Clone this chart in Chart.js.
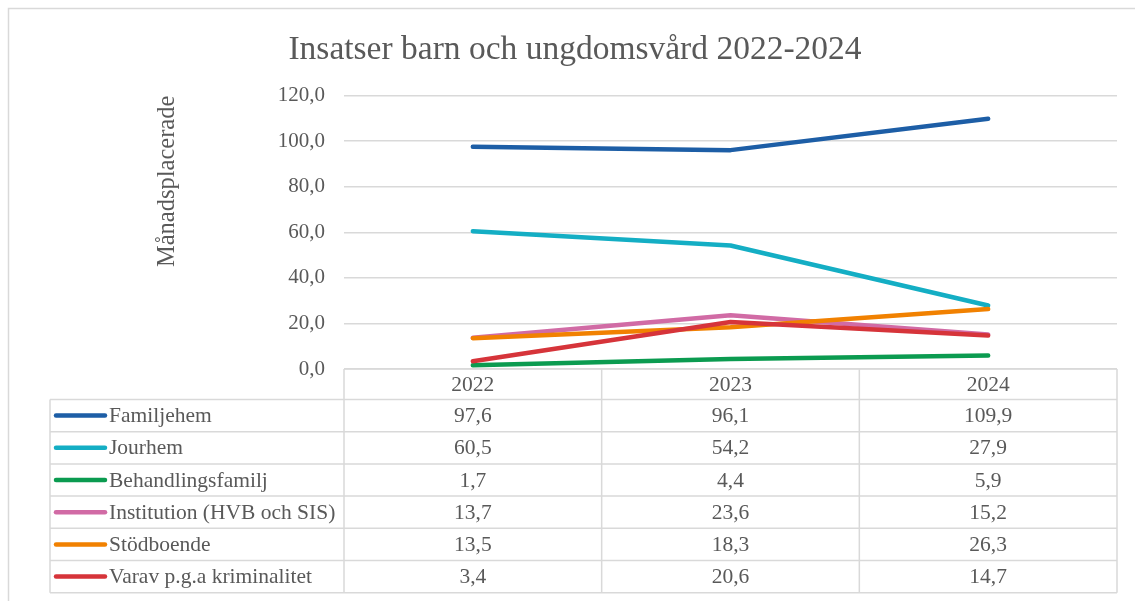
<!DOCTYPE html>
<html>
<head>
<meta charset="utf-8">
<script src="https://cdn.jsdelivr.net/npm/chart.js@4/dist/chart.umd.min.js"></script>
<style>
  html, body { margin: 0; padding: 0; background: #ffffff; }
  #wrap { width: 1135px; height: 601px; position: relative; }
</style>
</head>
<body>
<div id="wrap"><canvas id="c"></canvas></div>
<script>
const categories = ['2022', '2023', '2024'];
const seriesNames = ['Familjehem', 'Jourhem', 'Behandlingsfamilj', 'Institution (HVB och SIS)', 'Stödboende', 'Varav p.g.a kriminalitet'];
const familjehem = [97.6, 96.1, 109.9];
const jourhem = [60.5, 54.2, 27.9];
const behandlingsfamilj = [1.7, 4.4, 5.9];
const institution = [13.7, 23.6, 15.2];
const stodboende = [13.5, 18.3, 26.3];
const kriminalitet = [3.4, 20.6, 14.7];
const seriesValues = [familjehem, jourhem, behandlingsfamilj, institution, stodboende, kriminalitet];
const seriesColors = ['#1D5EA6', '#14AEC4', '#0B9B50', '#D16BA5', '#F18101', '#D6343A'];
const yTicks = [0, 20, 40, 60, 80, 100, 120];

const TEXT = '#595959';
const GRID = '#D9D9D9';
const SERIF = '"Liberation Serif", "Times New Roman", serif';
const fmt = v => v.toFixed(1).replace('.', ',');

const bgPlugin = {
  id: 'bg',
  beforeDraw(chart) {
    const ctx = chart.ctx;
    ctx.save();
    ctx.fillStyle = '#ffffff';
    ctx.fillRect(0, 0, chart.width, chart.height);
    ctx.strokeStyle = GRID;
    ctx.lineWidth = 1.5;
    ctx.strokeRect(8.5, 8.5, chart.width + 50, chart.height + 50);
    ctx.restore();
  }
};

const tablePlugin = {
  id: 'dataTable',
  afterDraw(chart) {
    const ctx = chart.ctx;
    const area = chart.chartArea;
    const xs = chart.scales.x;
    const n = categories.length;
    const colW = (area.right - area.left) / n;
    const top = area.bottom;
    const headerH = 30.5;
    const rowH = 32.2;
    const tableLeft = 50;
    const bottom = top + headerH + rowH * seriesNames.length;
    ctx.save();
    ctx.strokeStyle = GRID;
    ctx.lineWidth = 1.5;
    ctx.beginPath();
    ctx.moveTo(area.left, top);
    ctx.lineTo(area.right, top);
    for (let r = 0; r <= seriesNames.length; r++) {
      const y = top + headerH + r * rowH;
      ctx.moveTo(tableLeft, y);
      ctx.lineTo(area.right, y);
    }
    ctx.moveTo(tableLeft, top + headerH);
    ctx.lineTo(tableLeft, bottom);
    for (let c = 0; c <= n; c++) {
      const x = area.left + c * colW;
      ctx.moveTo(x, top);
      ctx.lineTo(x, bottom);
    }
    ctx.stroke();

    ctx.fillStyle = TEXT;
    ctx.font = '21.5px ' + SERIF;
    ctx.textBaseline = 'middle';
    ctx.textAlign = 'center';
    categories.forEach((cat, i) => {
      ctx.fillText(cat, xs.getPixelForValue(i), top + headerH / 2 + 1);
    });
    seriesNames.forEach((name, r) => {
      const yc = top + headerH + r * rowH + rowH / 2 + 1;
      ctx.strokeStyle = seriesColors[r];
      ctx.lineWidth = 4.5;
      ctx.lineCap = 'round';
      ctx.beginPath();
      ctx.moveTo(56, yc - 1);
      ctx.lineTo(105, yc - 1);
      ctx.stroke();
      ctx.textAlign = 'left';
      ctx.fillStyle = TEXT;
      ctx.fillText(name, 109, yc);
      ctx.textAlign = 'center';
      seriesValues[r].forEach((v, i) => {
        ctx.fillText(fmt(v), xs.getPixelForValue(i), yc);
      });
    });
    ctx.restore();
  }
};

const datasets = seriesNames.map((name, i) => ({
  label: name,
  data: seriesValues[i],
  borderColor: seriesColors[i],
  backgroundColor: seriesColors[i],
  borderWidth: 4.5,
  borderCapStyle: 'round',
  borderJoinStyle: 'round',
  pointRadius: 0,
  pointHoverRadius: 0,
  tension: 0,
  fill: false,
  order: seriesNames.length - i
}));

new Chart(document.getElementById('c'), {
  type: 'line',
  data: { labels: categories, datasets },
  options: {
    responsive: true,
    maintainAspectRatio: false,
    animation: false,
    layout: { padding: { left: 33, right: 18, top: 0, bottom: 232 } },
    plugins: {
      legend: { display: false },
      tooltip: { enabled: false },
      title: {
        display: true,
        text: 'Insatser barn och ungdomsvård 2022-2024',
        color: TEXT,
        font: { family: SERIF, size: 33.5, weight: 'normal' },
        padding: { top: 30, bottom: 25.5 }
      }
    },
    scales: {
      x: {
        type: 'category',
        display: false,
        offset: true
      },
      y: {
        min: 0,
        max: 120,
        afterFit(scale) { scale.width = 311; },
        afterBuildTicks(scale) { scale.ticks = yTicks.map(v => ({ value: v })); },
        border: { display: false },
        grid: { color: GRID, lineWidth: 1.5, drawTicks: false },
        ticks: {
          color: TEXT,
          padding: 19,
          font: { family: SERIF, size: 21 },
          callback: v => fmt(v)
        },
        title: {
          display: true,
          text: 'Månadsplacerade',
          align: 'end',
          color: TEXT,
          font: { family: SERIF, size: 24.5, weight: 'normal' },
          padding: { top: 120, bottom: 0 }
        }
      }
    }
  },
  plugins: [bgPlugin, tablePlugin]
});
</script>
</body>
</html>
